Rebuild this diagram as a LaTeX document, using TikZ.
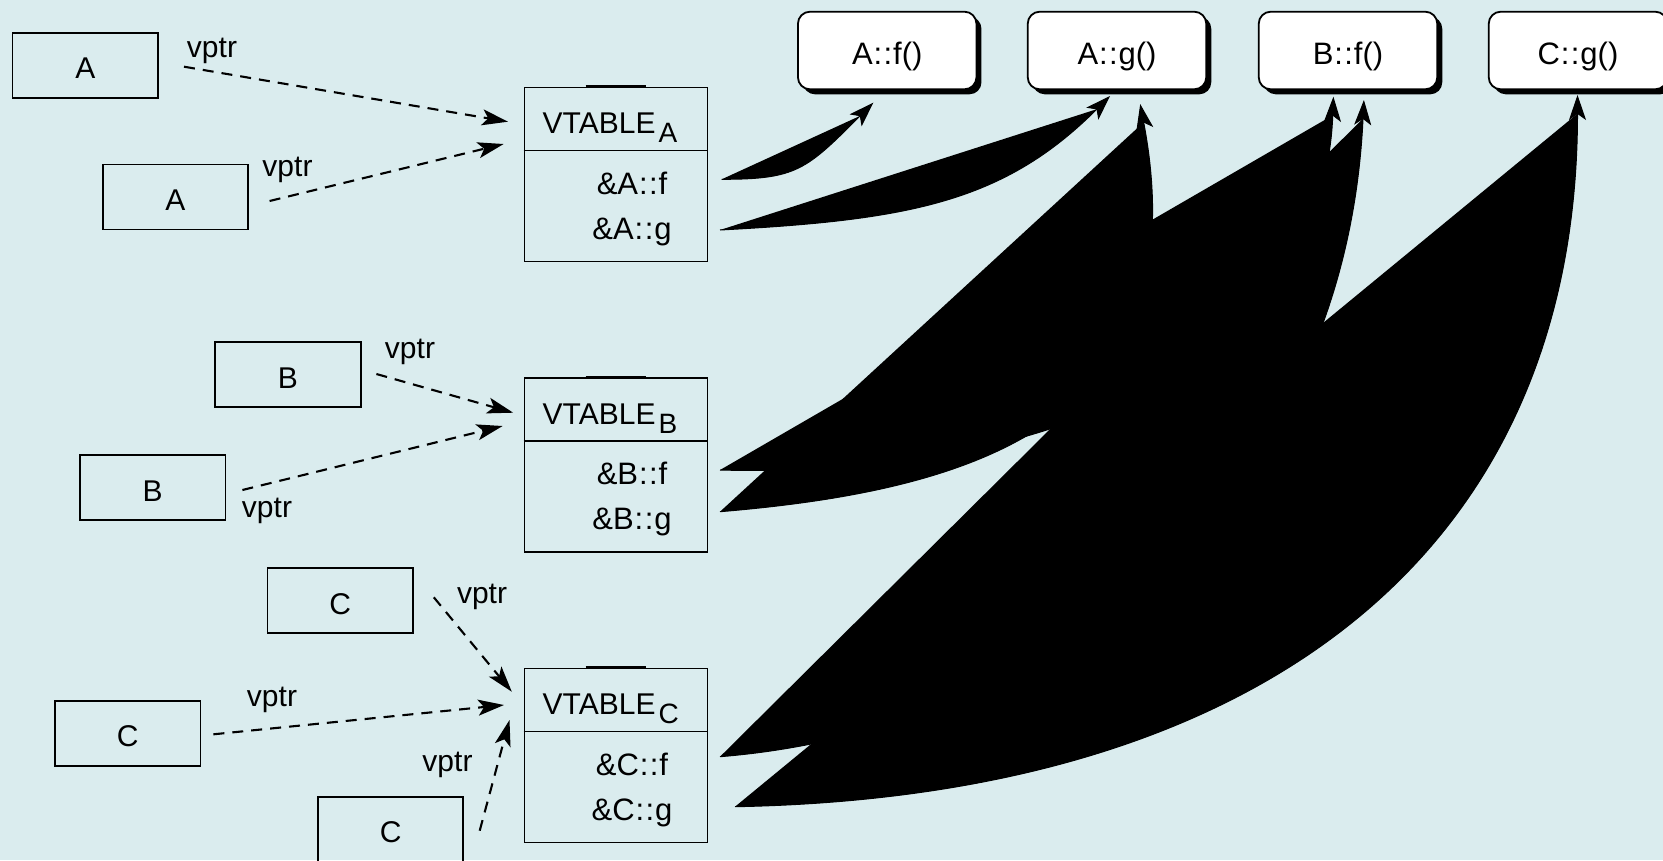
\documentclass[tikz,border=0pt]{standalone}
\usepackage{fontspec}
\setmainfont{Liberation Sans}
\usetikzlibrary{arrows.meta,shadows}
\definecolor{bg}{RGB}{218,236,238}
% text lowered inside a box without changing the box size
\newcommand\sinktext[1]{\raisebox{-13.5pt}[0pt][0pt]{#1}}
% lowered index letter of a table title
\newcommand\vtsub[1]{\kern3pt\raisebox{-9pt}{\fontsize{28}{28}\selectfont #1}}
% scope operator, set a little wider
\newcommand\cc{\kern0.9pt:\kern1.4pt:\kern0.9pt}
\begin{document}
\begin{tikzpicture}[x=1pt,y=-1pt,
  every node/.style={font=\fontsize{30}{36}\selectfont, inner sep=0pt},
  member/.style={font=\fontsize{31}{36}\selectfont},
  objbox/.style={draw, line width=1.8pt, minimum width=145.5pt, minimum height=65pt},
  tablebox/.style={draw, line width=1.8pt, minimum width=183pt, minimum height=174pt, anchor=north west},
  rule/.style={line width=1.8pt},
  funcbox/.style={draw, line width=1.8pt, fill=white, rounded corners=12pt,
    minimum width=178.5pt, minimum height=77.6pt, member,
    drop shadow={shadow xshift=5pt, shadow yshift=-5pt, fill=black, opacity=1}},
  vptrline/.style={line width=2.1pt, dash pattern=on 11pt off 8pt,
    -{Stealth[length=26pt,width=16pt,inset=6pt]}},
  vcall/.style={line width=1pt, fill=black,
    -{Stealth[length=25pt,width=17pt,inset=6pt]}}
]
\path[use as bounding box, fill=bg] (0,0) rectangle (1663,860);

% objects and their vptr fields
\node[objbox] (oA1) at (85.3,65.2) {\sinktext{A}};
\node[objbox] (oA2) at (175.5,197) {\sinktext{A}};
\node[objbox] (oB1) at (288,374.7) {\sinktext{B}};
\node[objbox] (oB2) at (152.7,487.8) {\sinktext{B}};
\node[objbox] (oC1) at (340.3,600.8) {\sinktext{C}};
\node[objbox] (oC2) at (127.8,733.3) {\sinktext{C}};
\node[objbox] (oC3) at (390.6,829.2) {\sinktext{C}};

\node (lA1) at (212,50.8) {vptr};
\node (lA2) at (287.5,170) {vptr};
\node (lB1) at (410,351.5) {vptr};
\node (lB2) at (267,511) {vptr};
\node (lC1) at (482,597.3) {vptr};
\node (lC2) at (272,700) {vptr};
\node (lC3) at (447.5,765) {vptr};

% virtual tables
\foreach \t/\y in {A/86.5,B/377,C/667.5}{
  \node[tablebox] (vt\t) at (523.5,\y) {};
  \draw[rule] ([yshift=-64pt]vt\t.north west) -- ([yshift=-64pt]vt\t.north east);
  \draw[line width=2.5pt] ([xshift=62pt]vt\t.north west) -- ([xshift=122pt]vt\t.north west);
  \node[anchor=base west] (h\t) at ([xshift=19pt,yshift=-47pt]vt\t.north west) {VTABLE\vtsub{\t}};
  \node[anchor=base, member] (e\t f) at ([xshift=108.5pt,yshift=-107.5pt]vt\t.north west) {\&\t\cc f};
  \node[anchor=base, member] (e\t g) at ([xshift=108.5pt,yshift=-152.5pt]vt\t.north west) {\&\t\cc g};
}

% function bodies
\node[funcbox] (fAf) at (887.2,50.5) {\sinktext{A\cc f()}};
\node[funcbox] (fAg) at (1117,50.5) {\sinktext{A\cc g()}};
\node[funcbox] (fBf) at (1348,50.5) {\sinktext{B\cc f()}};
\node[funcbox] (fCg) at (1578,50.5) {\sinktext{C\cc g()}};

% vptr arrows
\coordinate (pA1) at (184,66.7);   \coordinate (qA1) at (508,121.7);
\coordinate (pA2) at (269.6,201);  \coordinate (qA2) at (503.6,144);
\coordinate (pB1) at (376.4,374);  \coordinate (qB1) at (513.2,412.7);
\coordinate (pB2) at (242.4,490);  \coordinate (qB2) at (502.6,426);
\coordinate (pC1) at (433.8,597.3);\coordinate (qC1) at (511.8,691.7);
\coordinate (pC2) at (213.4,734.3);\coordinate (qC2) at (504,705);
\coordinate (pC3) at (479.7,830.7);\coordinate (qC3) at (509.5,720);
\foreach \k in {A1,A2,B1,B2,C1,C2,C3}{
  \draw[vptrline] (p\k) -- (q\k);
}

% table slots pointing at the function bodies
\coordinate (sAf) at (721.7,179.3);
\coordinate (sAg) at (720,230);
\coordinate (sBf) at (720,470);
\coordinate (sBg) at (720,511.7);
\coordinate (sCf) at (720,756.7);
\coordinate (sCg) at (735,806.7);
\coordinate (tAf) at (873.3,102.7);
\coordinate (tAg1) at (1110,96);
\coordinate (tAg2) at (1140.2,104);
\coordinate (tBf1) at (1333.4,96.7);
\coordinate (tBf2) at (1363.9,100);
\coordinate (tCg) at (1577.5,95);

\draw[vcall] (sAf) .. controls +(75,0) and +(-67.3,67.3) .. (tAf);
\draw[vcall] (sAg) .. controls +(189.7,-10) and +(-106.1,106.1) .. (tAg1);
\draw[vcall] (sBf) .. controls +(380,10) and +(-8.4,233.3) .. (tBf1);
\draw[vcall] (sBg) .. controls +(260,-21.7) and +(59.8,316) .. (tAg2);
\draw[vcall] (sCf) .. controls +(330,-26.7) and +(-18.9,400) .. (tBf2);
\draw[vcall] (sCg) .. controls +(530,-9.7) and +(0,455) .. (tCg);
\end{tikzpicture}
\end{document}
